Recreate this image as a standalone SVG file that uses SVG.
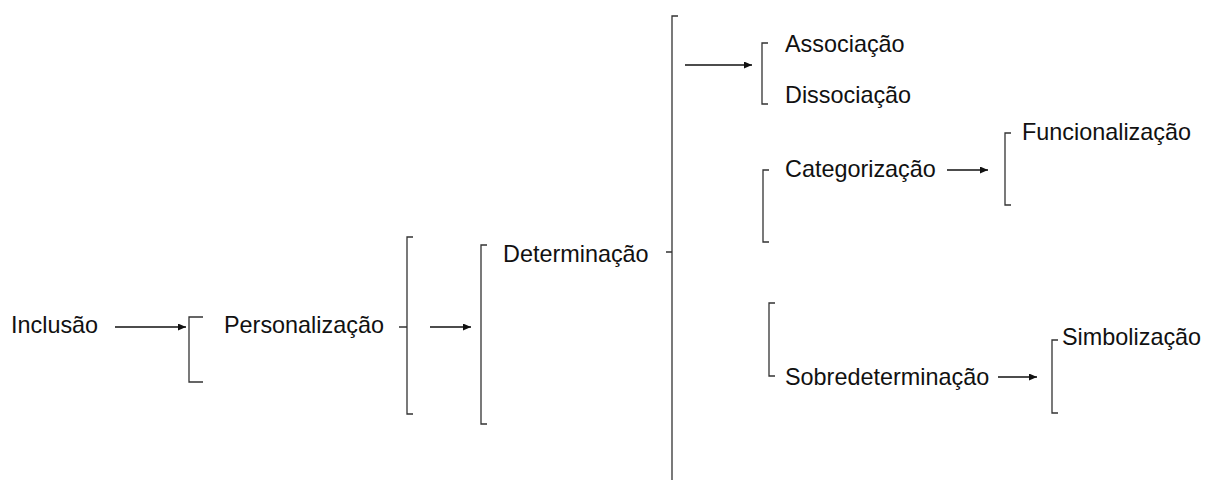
<svg xmlns="http://www.w3.org/2000/svg" width="1206" height="480" viewBox="0 0 1206 480">
  <style>
    .lbl { font-family: "Liberation Sans", Arial, sans-serif; font-size: 23.4px; fill: #111; }
    .br { fill: none; stroke: #333; stroke-width: 1.3; }
    .ar { fill: none; stroke: #111; stroke-width: 1.3; marker-end: url(#head); }
  </style>
  <defs>
    <marker id="head" markerWidth="8" markerHeight="7" refX="8" refY="3.5" orient="auto" markerUnits="userSpaceOnUse">
      <path d="M0,0 L8,3.5 L0,7 Z" fill="#111"/>
    </marker>
  </defs>
  <rect width="1206" height="480" fill="#fff"/>

  <!-- brackets -->
  <g id="brackets">
    <path class="br" d="M203,317 H189 V382 H203"/>
    <path class="br" d="M413,237 H407 V414 H413 M407,327 H399"/>
    <path class="br" d="M487,245 H481 V424 H487"/>
    <path class="br" d="M678,16 H672 V480 M672,252 H666"/>
    <path class="br" d="M768,43 H762 V104 H768"/>
    <path class="br" d="M769,170 H763 V242 H769"/>
    <path class="br" d="M1011,133 H1005 V205 H1011"/>
    <path class="br" d="M775,303 H769 V376 H775"/>
    <path class="br" d="M1058,340 H1052 V413 H1058"/>
  </g>

  <!-- nodes -->
  <g id="n-inclusao"><text class="lbl" x="11" y="333">Inclusão</text></g>
  <g id="n-personalizacao"><text class="lbl" x="224" y="333">Personalização</text></g>
  <g id="n-determinacao"><text class="lbl" x="503" y="262">Determinação</text></g>
  <g id="n-associacao"><text class="lbl" x="785" y="52">Associação</text></g>
  <g id="n-dissociacao"><text class="lbl" x="785" y="103">Dissociação</text></g>
  <g id="n-categorizacao"><text class="lbl" x="785" y="177">Categorização</text></g>
  <g id="n-funcionalizacao"><text class="lbl" x="1022" y="140">Funcionalização</text></g>
  <g id="n-sobredeterminacao"><text class="lbl" x="785" y="385">Sobredeterminação</text></g>
  <g id="n-simbolizacao"><text class="lbl" x="1062" y="345">Simbolização</text></g>

  <!-- connectors -->
  <g id="connectors">
    <line class="ar" x1="115" y1="327" x2="186" y2="327"/>
    <line class="ar" x1="430" y1="327" x2="471" y2="327"/>
    <line class="ar" x1="685" y1="65" x2="752" y2="65"/>
    <line class="ar" x1="947" y1="170" x2="988" y2="170"/>
    <line class="ar" x1="998" y1="377" x2="1037" y2="377"/>
  </g>
</svg>
